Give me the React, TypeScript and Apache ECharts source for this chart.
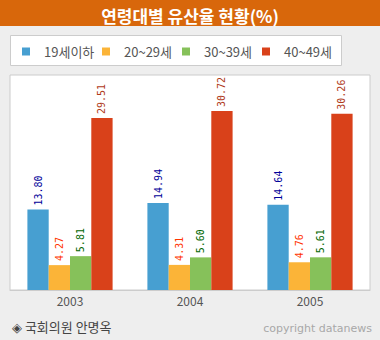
import React, { useEffect, useRef } from "react";
import * as echarts from "echarts";

const categories = ["2003", "2004", "2005"];
const seriesNames = ["19세이하", "20~29세", "30~39세", "40~49세"];
const under19 = [13.8, 14.94, 14.64];
const age20s = [4.27, 4.31, 4.76];
const age30s = [5.81, 5.6, 5.61];
const age40s = [29.51, 30.72, 30.26];
const seriesValues = [under19, age20s, age30s, age40s];
const barColors = ["#479FD1", "#FBB438", "#86C15A", "#D9411A"];
const labelColors = ["#000099", "#FF3300", "#006600", "#B03A1A"];
const titleText = "연령대별 유산율 현황(%)";
const sourceText = "◈ 국회의원 안명옥";
const copyrightText = "copyright datanews";

const KR = "'Noto Sans CJK KR', 'Noto Sans', sans-serif";

export default function App() {
  const ref = useRef<HTMLDivElement>(null);
  useEffect(() => {
    if (!ref.current) return;
    const chart = echarts.init(ref.current, null, { renderer: "svg" });
    chart.setOption({
      animation: false,
      backgroundColor: "#EEEEEE",
      title: {
        text: titleText,
        left: "center",
        top: 2,
        textStyle: { color: "#fff", fontSize: 17, fontWeight: "bold", fontFamily: KR },
      },
      legend: seriesNames.map((n, i) => ({
        data: [n],
        left: 17 + 80 * i,
        top: 40,
        itemWidth: 8,
        itemHeight: 8,
        icon: "rect",
        selectedMode: false,
        textStyle: { color: "#555", fontSize: 13, fontFamily: KR, padding: [0, 0, 0, 9] },
      })),
      grid: {
        show: true,
        left: 10,
        right: 10,
        top: 75,
        bottom: 50,
        backgroundColor: "#fff",
        borderColor: "#CCCCCC",
        borderWidth: 1,
      },
      xAxis: {
        type: "category",
        data: categories,
        axisLine: { lineStyle: { color: "#CCCCCC" } },
        axisTick: { inside: true, length: 5, lineStyle: { color: "#999" } },
        axisLabel: { color: "#555", fontSize: 12, margin: 4, fontFamily: KR },
      },
      yAxis: {
        type: "value",
        min: 0,
        max: 36.9,
        show: false,
        splitLine: { show: false },
      },
      series: seriesNames.map((n, i) => ({
        name: n,
        type: "bar",
        data: seriesValues[i],
        barGap: "0%",
        barCategoryGap: "29%",
        itemStyle: { color: barColors[i] },
        label: {
          show: true,
          position: "top",
          rotate: 90,
          align: "left",
          verticalAlign: "middle",
          distance: 4,
          color: labelColors[i],
          fontSize: 10,
          fontFamily: "'DejaVu Sans Mono', monospace",
          formatter: (p: any) => Number(p.value).toFixed(2),
        },
      })),
      graphic: [
        {
          type: "rect",
          z: -10,
          shape: { x: 0, y: 0, width: 380, height: 26 },
          style: { fill: "#D8670B" },
        },
        {
          type: "rect",
          z: -10,
          shape: { x: 10.5, y: 35.5, width: 331, height: 30 },
          style: { fill: "#fff", stroke: "#CCCCCC", lineWidth: 1 },
        },
        {
          type: "text",
          x: 12,
          y: 326,
          style: {
            text: sourceText,
            fill: "#444",
            fontSize: 13,
            fontFamily: KR,
            verticalAlign: "middle",
          },
        },
        {
          type: "text",
          x: 372,
          y: 328,
          style: {
            text: copyrightText,
            fill: "#A8A8A8",
            fontSize: 11,
            fontFamily: "'DejaVu Sans', sans-serif",
            align: "right",
            verticalAlign: "middle",
          },
        },
      ],
    });
    return () => chart.dispose();
  }, []);
  return (
    <div
      ref={ref}
      style={{ position: "fixed", left: 0, top: 0, width: 380, height: 340 }}
    />
  );
}
